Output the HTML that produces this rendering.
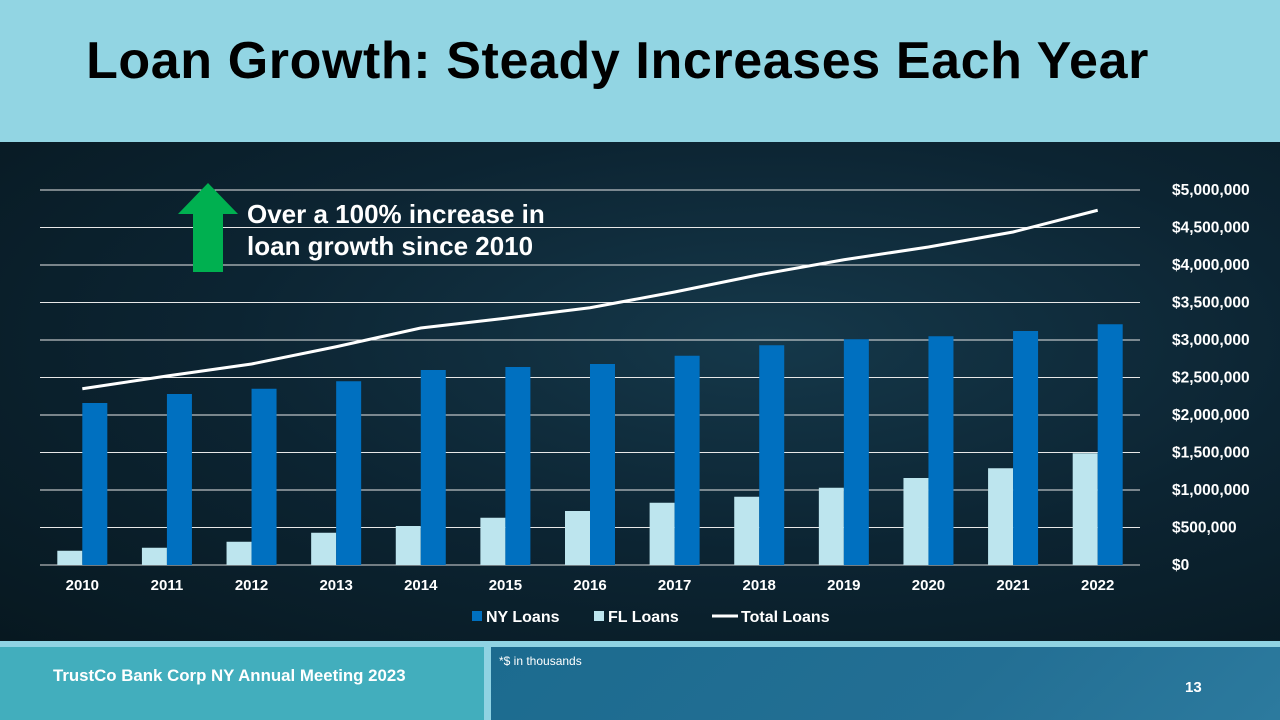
<!DOCTYPE html>
<html><head><meta charset="utf-8"><style>
body{margin:0;width:1280px;height:720px;overflow:hidden;font-family:"Liberation Sans",sans-serif;position:relative;background:#0a1c28}
.abs{position:absolute}
</style></head><body>
<div class="abs" style="left:0;top:0;width:1280px;height:142px;background:#92D5E3"></div>
<div class="abs" style="left:0;top:31px;width:1235px;text-align:center;font-size:52px;font-weight:bold;color:#000;letter-spacing:0.6px">Loan Growth: Steady Increases Each Year</div>
<div class="abs" style="left:0;top:142px;width:1280px;height:499px;background:radial-gradient(ellipse at 60% 40%,#15384a 0%,#0c2432 50%,#071820 100%)"></div>
<div class="abs" style="left:0;top:641px;width:1280px;height:79px;background:#8FD3E3"></div>
<div class="abs" style="left:0;top:647px;width:484px;height:73px;background:#42AEBD"></div>
<div class="abs" style="left:491px;top:647px;width:789px;height:73px;background:linear-gradient(135deg,#1c6b8f,#236f94 60%,#2c7a9e)"></div>
<div class="abs" style="left:53px;top:667px;font-size:16.5px;font-weight:bold;color:#fff;transform:scaleX(1.02);transform-origin:left">TrustCo Bank Corp NY Annual Meeting 2023</div>
<div class="abs" style="left:499px;top:654px;font-size:12px;color:#fff">*$ in thousands</div>
<div class="abs" style="left:1185px;top:679px;font-size:15px;font-weight:bold;color:#fff">13</div>
<svg class="abs" style="left:0;top:0" width="1280" height="720" id="chart"></svg>
<script>
const categories=["2010","2011","2012","2013","2014","2015","2016","2017","2018","2019","2020","2021","2022"];
const nyLoans=[2160000,2280000,2350000,2450000,2600000,2640000,2680000,2790000,2930000,3010000,3050000,3120000,3210000];
const flLoans=[190000,230000,310000,430000,520000,630000,720000,830000,910000,1030000,1160000,1290000,1490000];
const totalLoans=[2350000,2520000,2680000,2910000,3160000,3290000,3430000,3640000,3870000,4070000,4240000,4440000,4730000];
const yTicks=[0,500000,1000000,1500000,2000000,2500000,3000000,3500000,4000000,4500000,5000000];
const NS="http://www.w3.org/2000/svg";
const svg=document.getElementById('chart');
const X0=40,X1=1140,Y0=565,Y1=190,MAX=5000000;
const bw=(X1-X0)/categories.length;
const y=v=>Y0-(v/MAX)*(Y0-Y1);
const xc=i=>X0+bw*(i+0.5);
function mk(t,a){const e=document.createElementNS(NS,t);for(const k in a)e.setAttribute(k,a[k]);svg.appendChild(e);return e;}
yTicks.forEach(v=>{
 const l=mk('line',{x1:X0,x2:X1,y1:y(v),y2:y(v),stroke:v===0?'#d9d9d9':'#e8e8e8','stroke-width':1});
 
 
 const t=mk('text',{x:1172,y:y(v)+5,fill:'#fff','font-size':15.5,'font-weight':'bold','font-family':'Liberation Sans'});
 t.textContent='$'+v.toLocaleString('en-US');
 
 
});
categories.forEach((c,i)=>{
 const w=25;
 const f=mk('rect',{x:xc(i)-w,y:y(flLoans[i]),width:w,height:Y0-y(flLoans[i]),fill:'#BDE5EE'});
 
 
 const n=mk('rect',{x:xc(i),y:y(nyLoans[i]),width:w,height:Y0-y(nyLoans[i]),fill:'#0070C0'});
 
 
 const t=mk('text',{x:xc(i),y:590,fill:'#fff','font-size':15,'font-weight':'bold','text-anchor':'middle','font-family':'Liberation Sans'});
 t.textContent=c;
 
 
});
const p=mk('polyline',{points:totalLoans.map((v,i)=>xc(i)+','+y(v)).join(' '),fill:'none',stroke:'#fff','stroke-width':3});


const lg=[['rect','#0070C0','NY Loans',472],['rect','#BDE5EE','FL Loans',594],['line','#fff','Total Loans',712]];
lg.forEach(([k,col,lab,x])=>{
 let m;
 if(k==='rect')m=mk('rect',{x:x,y:611,width:10,height:10,fill:col});
 else m=mk('line',{x1:x,x2:x+26,y1:616,y2:616,stroke:col,'stroke-width':3});
 
 
 const t=mk('text',{x:x+(k==='rect'?14:29),y:622,fill:'#fff','font-size':16,'font-weight':'bold','font-family':'Liberation Sans'});
 t.textContent=lab;
 
 
});
const a=mk('polygon',{points:'208,183 238,214 223,214 223,272 193,272 193,214 178,214',fill:'#00B050'});


['Over a 100% increase in','loan growth since 2010'].forEach((s,i)=>{
 const t=mk('text',{x:247,y:223+i*32,fill:'#fff','font-size':26,'font-weight':'bold','font-family':'Liberation Sans'});
 t.textContent=s;
 
 
});
</script>
</body></html>
